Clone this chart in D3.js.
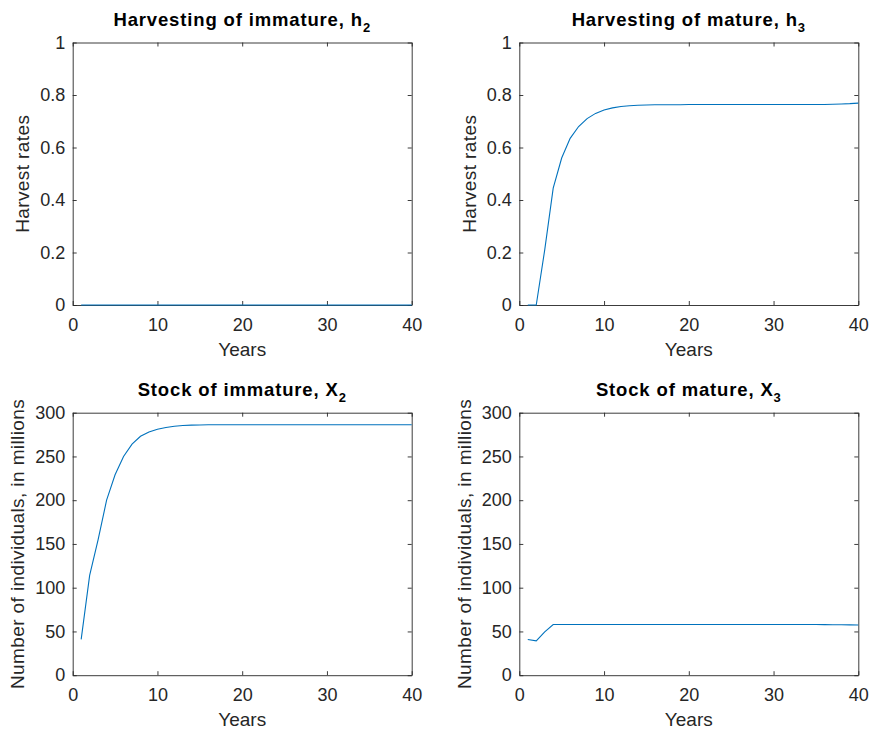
<!DOCTYPE html>
<html>
<head>
<meta charset="utf-8">
<script src="https://cdn.jsdelivr.net/npm/d3@7"></script>
<style>
    body { margin: 0; background: #fff; }
    svg text { font-family: 'Liberation Sans', Arial, Helvetica, sans-serif; fill: #262626; }
    .tick line, .domain { stroke: #262626; }
</style>
</head>
<body>
<div id="chart"></div>
<script>
// Data (years 1..40)
var years = d3.range(1, 41);

var h2 = d3.range(1, 41).map(() => 0);

var h3 = [0, 0, 0.21, 0.445, 0.56, 0.635, 0.68, 0.71, 0.73, 0.743,
    0.751, 0.756, 0.759, 0.761, 0.762, 0.763, 0.763, 0.763, 0.763, 0.764,
    0.764, 0.764, 0.764, 0.764, 0.764, 0.764, 0.764, 0.764, 0.764, 0.764,
    0.764, 0.764, 0.764, 0.764, 0.764, 0.764, 0.765, 0.766, 0.767, 0.769];

var x2 = [41, 114, 155, 200, 229, 250, 264, 273, 278, 281,
    283, 284.5, 285.3, 285.8, 286, 286.2, 286.3, 286.3, 286.3, 286.3,
    286.3, 286.3, 286.3, 286.3, 286.3, 286.3, 286.3, 286.3, 286.3, 286.3,
    286.3, 286.3, 286.3, 286.3, 286.3, 286.3, 286.3, 286.3, 286.3, 286.3];

var x3 = [40.8, 39.3, 49.5, 57.9, 57.9, 57.9, 57.9, 57.9, 57.9, 57.9,
    57.9, 57.9, 57.9, 57.9, 57.9, 57.9, 57.9, 57.9, 57.9, 57.9,
    57.9, 57.9, 57.9, 57.9, 57.9, 57.9, 57.9, 57.9, 57.9, 57.9,
    57.9, 57.9, 57.9, 57.9, 57.9, 57.8, 57.7, 57.6, 57.5, 57.4];

var xTicks = [0, 10, 20, 30, 40];
var rateTicks = [0, 0.2, 0.4, 0.6, 0.8, 1];
var stockTicks = [0, 50, 100, 150, 200, 250, 300];

var svgWidth = 869;
var svgHeight = 734;

var svg = d3.select('#chart')
    .append('svg')
    .attr('width', svgWidth)
    .attr('height', svgHeight);

// One panel per subplot
var panels = [
    { left: 72.7, top: 42.5, title: 'Harvesting of immature, h', sub: '2', values: h2,
        yMax: 1, yTicks: rateTicks, yLabel: 'Harvest rates', yLabelOffset: -50 },
    { left: 519.3, top: 42.5, title: 'Harvesting of mature, h', sub: '3', values: h3,
        yMax: 1, yTicks: rateTicks, yLabel: 'Harvest rates', yLabelOffset: -50 },
    { left: 72.7, top: 412.7, title: 'Stock of immature, X', sub: '2', values: x2,
        yMax: 300, yTicks: stockTicks, yLabel: 'Number of individuals, in millions', yLabelOffset: -55 },
    { left: 519.3, top: 412.7, title: 'Stock of mature, X', sub: '3', values: x3,
        yMax: 300, yTicks: stockTicks, yLabel: 'Number of individuals, in millions', yLabelOffset: -55 }
];

var chartWidth = 339;
var chartHeight = 262.5;

panels.forEach(function(p) {
    var g = svg.append('g')
        .attr('transform', `translate(${p.left}, ${p.top})`);

    var xScale = d3.scaleLinear()
        .domain([0, 40])
        .range([0, chartWidth]);

    var yScale = d3.scaleLinear()
        .domain([0, p.yMax])
        .range([chartHeight, 0]);

    var bottomAxis = d3.axisBottom(xScale).tickValues(xTicks).tickFormat(String)
        .tickSizeInner(-4).tickSizeOuter(0).tickPadding(13);
    var leftAxis = d3.axisLeft(yScale).tickValues(p.yTicks).tickFormat(String)
        .tickSizeInner(-4).tickSizeOuter(0).tickPadding(7.5);
    var topAxis = d3.axisTop(xScale).tickValues(xTicks).tickSizeInner(-4).tickSizeOuter(0).tickFormat('');
    var rightAxis = d3.axisRight(yScale).tickValues(p.yTicks).tickSizeInner(-4).tickSizeOuter(0).tickFormat('');

    [
        g.append('g').attr('transform', `translate(0, ${chartHeight})`).call(bottomAxis),
        g.append('g').call(leftAxis),
        g.append('g').call(topAxis),
        g.append('g').attr('transform', `translate(${chartWidth}, 0)`).call(rightAxis)
    ].forEach(function(a) {
        a.attr('font-family', null);
        a.selectAll('text')
            .style('font-size', '18px');
        a.select('.domain').attr('stroke-width', 0.9);
        a.selectAll('.tick line').attr('stroke-width', 0.9);
    });

    // Data line
    var line = d3.line()
        .x((d, i) => xScale(years[i]))
        .y((d) => yScale(d));

    g.append('path')
        .datum(p.values)
        .attr('fill', 'none')
        .attr('stroke', '#0072BD')
        .attr('stroke-width', 1.1)
        .attr('d', line);

    // Title with subscript
    var title = g.append('text')
        .attr('x', chartWidth / 2)
        .attr('y', -16.5)
        .attr('text-anchor', 'middle')
        .style('font-size', '18.5px')
        .style('font-weight', 'bold')
        .style('letter-spacing', '0.85px')
        .style('fill', '#000');
    title.append('tspan').text(p.title);
    title.append('tspan')
        .attr('dy', 6)
        .style('font-size', '13px')
        .text(p.sub);

    // Axis labels
    g.append('text')
        .attr('x', chartWidth / 2)
        .attr('y', chartHeight + 51)
        .attr('text-anchor', 'middle')
        .style('font-size', '19px')
        .text('Years');

    g.append('text')
        .attr('transform', `translate(${p.yLabelOffset}, ${chartHeight / 2}) rotate(-90)`)
        .attr('text-anchor', 'middle')
        .attr('dy', '0.35em')
        .style('font-size', '19px')
        .style('letter-spacing', '0.4px')
        .text(p.yLabel);
});
</script>
</body>
</html>
